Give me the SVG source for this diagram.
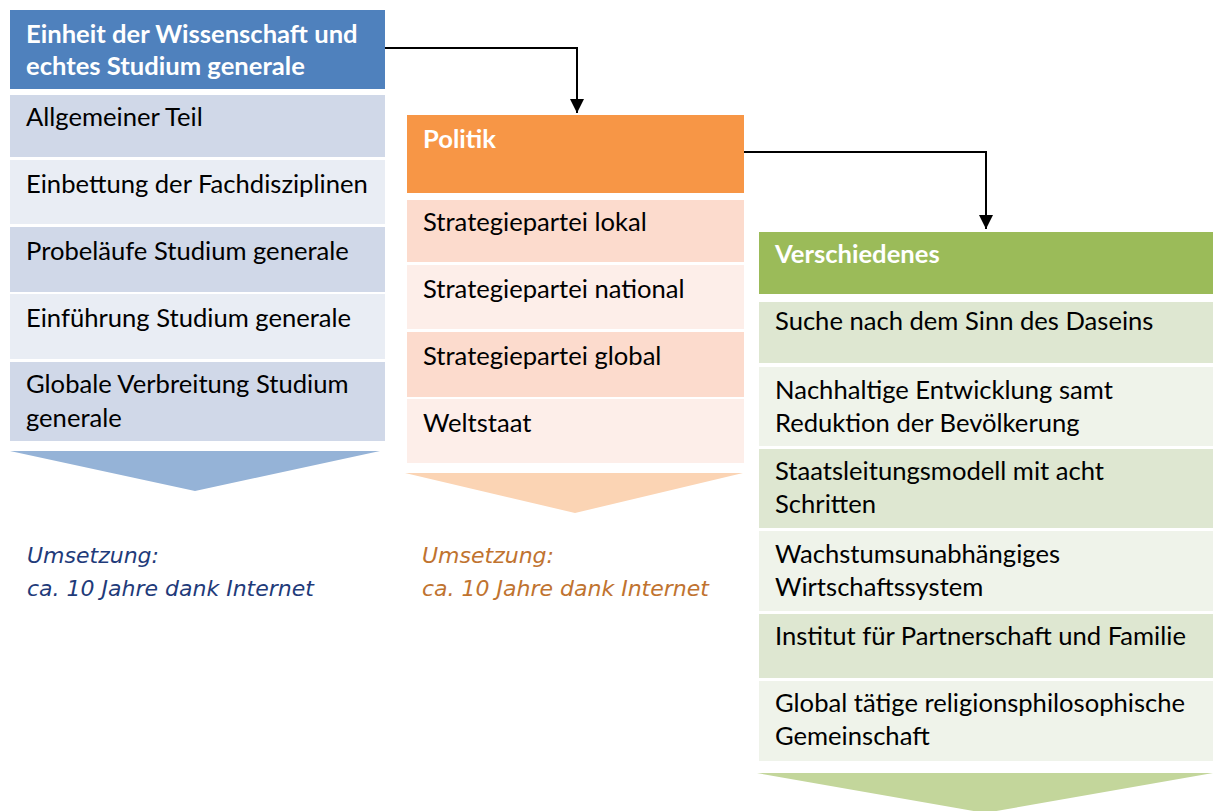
<svg xmlns="http://www.w3.org/2000/svg" width="1213" height="811" viewBox="0 0 1213 811">
<defs>
<style>
.t{font-family:Lato,"Open Sans",sans-serif;font-size:25.6px;fill:#000}
.h{font-family:Lato,"Open Sans",sans-serif;font-size:25.6px;font-weight:bold;fill:#fff}
.u{font-family:"DejaVu Sans",sans-serif;font-size:22px;font-style:italic}
.conn{fill:none;stroke:#000;stroke-width:2}
</style>
<marker id="ah" viewBox="0 0 10 10" refX="10" refY="5" markerWidth="7" markerHeight="7" markerUnits="strokeWidth" orient="auto">
<path d="M0,0 L10,5 L0,10 z" fill="#000"/>
</marker>
</defs>
<rect width="1213" height="811" fill="#fff"/>

<g id="col1">
<g id="n1"><rect x="10" y="10" width="375" height="79" fill="#4f81bd"/><text class="h" x="26" y="43">Einheit der Wissenschaft und</text><text class="h" x="26" y="75">echtes Studium generale</text></g>
<g id="n1a"><rect x="10" y="95" width="375" height="62" fill="#d0d8e8"/><text class="t" x="26" y="126">Allgemeiner Teil</text></g>
<g id="n1b"><rect x="10" y="160" width="375" height="64" fill="#e9edf4"/><text class="t" x="26" y="193">Einbettung der Fachdisziplinen</text></g>
<g id="n1c"><rect x="10" y="227" width="375" height="65" fill="#d0d8e8"/><text class="t" x="26" y="260">Probeläufe Studium generale</text></g>
<g id="n1d"><rect x="10" y="294" width="375" height="65" fill="#e9edf4"/><text class="t" x="26" y="327">Einführung Studium generale</text></g>
<g id="n1e"><rect x="10" y="362" width="375" height="79" fill="#d0d8e8"/><text class="t" x="26" y="393">Globale Verbreitung Studium</text><text class="t" x="26" y="427">generale</text></g>
<polygon id="a1" points="10,451 380,451 195,491" fill="#95b3d7"/>
<g id="u1"><text class="u" x="27" y="563" fill="#1f3b7a">Umsetzung:</text><text class="u" x="27" y="596" fill="#1f3b7a">ca. 10 Jahre dank Internet</text></g>
</g>

<g id="col2">
<g id="n2"><rect x="407" y="115" width="337" height="78" fill="#f79646"/><text class="h" x="423" y="148">Politik</text></g>
<g id="n2a"><rect x="407" y="200" width="337" height="62" fill="#fcdbcd"/><text class="t" x="423" y="231">Strategiepartei lokal</text></g>
<g id="n2b"><rect x="407" y="265" width="337" height="64" fill="#fdeee9"/><text class="t" x="423" y="298">Strategiepartei national</text></g>
<g id="n2c"><rect x="407" y="332" width="337" height="65" fill="#fcdbcd"/><text class="t" x="423" y="365">Strategiepartei global</text></g>
<g id="n2d"><rect x="407" y="399" width="337" height="64" fill="#fdeee9"/><text class="t" x="423" y="432">Weltstaat</text></g>
<polygon id="a2" points="405,473 743,473 575,513" fill="#fbd4b4"/>
<g id="u2"><text class="u" x="422" y="563" fill="#c0732f">Umsetzung:</text><text class="u" x="422" y="596" fill="#c0732f">ca. 10 Jahre dank Internet</text></g>
</g>

<g id="col3">
<g id="n3"><rect x="759" y="232" width="454" height="62" fill="#9bbb59"/><text class="h" x="775" y="263">Verschiedenes</text></g>
<g id="n3a"><rect x="759" y="302" width="454" height="61" fill="#dee7d1"/><text class="t" x="775" y="330">Suche nach dem Sinn des Daseins</text></g>
<g id="n3b"><rect x="759" y="367" width="454" height="79" fill="#eff3ea"/><text class="t" x="775" y="399">Nachhaltige Entwicklung samt</text><text class="t" x="775" y="432">Reduktion der Bevölkerung</text></g>
<g id="n3c"><rect x="759" y="449" width="454" height="79" fill="#dee7d1"/><text class="t" x="775" y="480">Staatsleitungsmodell mit acht</text><text class="t" x="775" y="513">Schritten</text></g>
<g id="n3d"><rect x="759" y="531" width="454" height="80" fill="#eff3ea"/><text class="t" x="775" y="563">Wachstumsunabhängiges</text><text class="t" x="775" y="596">Wirtschaftssystem</text></g>
<g id="n3e"><rect x="759" y="614" width="454" height="64" fill="#dee7d1"/><text class="t" x="775" y="645">Institut für Partnerschaft und Familie</text></g>
<g id="n3f"><rect x="759" y="681" width="454" height="80" fill="#eff3ea"/><text class="t" x="775" y="712">Global tätige religionsphilosophische</text><text class="t" x="775" y="745">Gemeinschaft</text></g>
<polygon id="a3" points="757,773 1213,773 985,813" fill="#c3d69b"/>
</g>

<g id="connectors">
<path class="conn" d="M385,48 H577 V113" marker-end="url(#ah)"/>
<path class="conn" d="M744,152 H986 V229" marker-end="url(#ah)"/>
</g>
</svg>
